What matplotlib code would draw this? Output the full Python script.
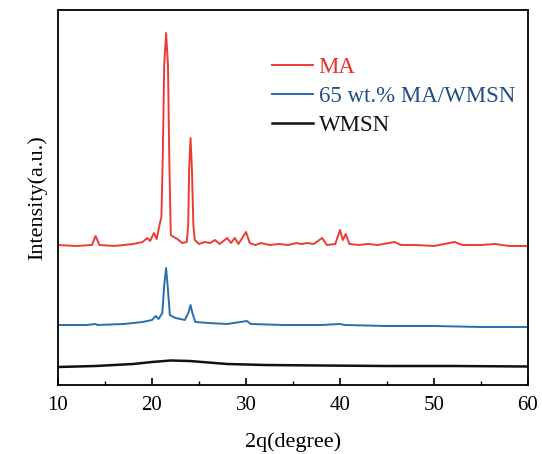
import matplotlib.pyplot as plt
from matplotlib.ticker import MultipleLocator

plt.rcParams['font.family'] = ['Liberation Serif', 'DejaVu Serif']

# XRD traces (2theta in degrees, intensity in arbitrary units)
ma_x = [10, 12, 13.6, 14.0, 14.4, 16, 18, 19.0, 19.5, 19.8, 20.2, 20.5, 20.8, 21.0,
        21.15, 21.3, 21.5, 21.7, 21.85, 22.0, 22.3, 22.7, 23.2, 23.7, 23.85, 23.95,
        24.1, 24.25, 24.4, 24.55, 25, 25.6, 26.2, 26.7, 27.2, 28.0, 28.4, 28.8, 29.2,
        30.0, 30.4, 31, 31.6, 32.5, 33.5, 34.5, 35.4, 35.9, 36.5, 37.2, 38.1, 38.6,
        39.5, 40.0, 40.3, 40.6, 41.0, 42, 43, 44, 45.8, 46.5, 48, 50, 52.2, 53, 55,
        56.5, 58, 60]
ma_y = [140, 139, 140, 149, 140, 139, 141, 143, 147, 144, 152, 146, 160, 168,
        230, 320, 352, 320, 220, 150, 148, 146, 142, 143, 160, 215,
        247, 215, 160, 145, 141, 143, 142, 145, 141, 147, 142, 147, 141,
        153, 142, 140, 142, 140, 141, 140, 142, 141, 142, 141, 147, 140,
        141, 155, 145, 151, 141, 140, 141, 140, 143, 140, 140, 139, 143, 140, 140,
        141, 139, 139]

mix_x = [10, 13, 14, 14.2, 17, 19, 20, 20.4, 20.7, 21.1, 21.3, 21.5, 21.7, 21.9,
         22.5, 23.5, 23.9, 24.1, 24.3, 24.6, 26, 28, 30.1, 30.5, 34, 38, 40, 40.5,
         45, 50, 55, 60]
mix_y = [60, 60, 61, 60, 61, 63, 65, 69, 66, 72, 100, 117, 95, 70,
         67, 65, 73, 80, 72, 63, 62, 61, 64, 61, 60, 60, 61, 60,
         59, 59, 58, 58]

wmsn_x = [10, 14, 18, 20, 22, 24, 26, 28, 32, 38, 45, 52, 60]
wmsn_y = [18, 19, 21, 23, 24.5, 24, 22.5, 21, 20, 19.5, 19, 19, 18.5]

labels = ['MA', '65 wt.% MA/WMSN', 'WMSN']
line_colors = ['#ec3b34', '#2a6ead', '#111111']
text_colors = ['#e8312b', '#1f4f84', '#111111']

fig = plt.figure(figsize=(5.42, 4.54), dpi=100)
ax = fig.add_axes([58 / 542, 69 / 454, 470 / 542, 375 / 454])

ax.plot(ma_x, ma_y, color=line_colors[0], lw=1.4, label=labels[0])
ax.plot(mix_x, mix_y, color=line_colors[1], lw=1.4, label=labels[1])
ax.plot(wmsn_x, wmsn_y, color=line_colors[2], lw=1.8, label=labels[2])

ax.set_xlim(10, 60)
ax.set_ylim(0, 375)
ax.set_yticks([])
ax.xaxis.set_major_locator(MultipleLocator(10))
ax.xaxis.set_minor_locator(MultipleLocator(5))
ax.tick_params(axis='x', which='major', direction='in', length=5, width=1.2,
               labelsize=15, pad=8)
ax.tick_params(axis='x', which='minor', direction='in', length=3, width=1.0)
for s in ax.spines.values():
    s.set_linewidth(1.3)

ax.set_xlabel('2q(degree)', fontsize=16, labelpad=12)
ax.set_ylabel('Intensity(a.u.)', fontsize=16, labelpad=8)

leg = ax.legend(loc='upper left', bbox_to_anchor=(0.43, 0.905), frameon=False,
                fontsize=16.5, handlelength=1.8, handletextpad=0.25, labelspacing=0.35,
                borderpad=0)
for t, c in zip(leg.get_texts(), text_colors):
    t.set_color(c)

fig.savefig('out.png', dpi=100)
